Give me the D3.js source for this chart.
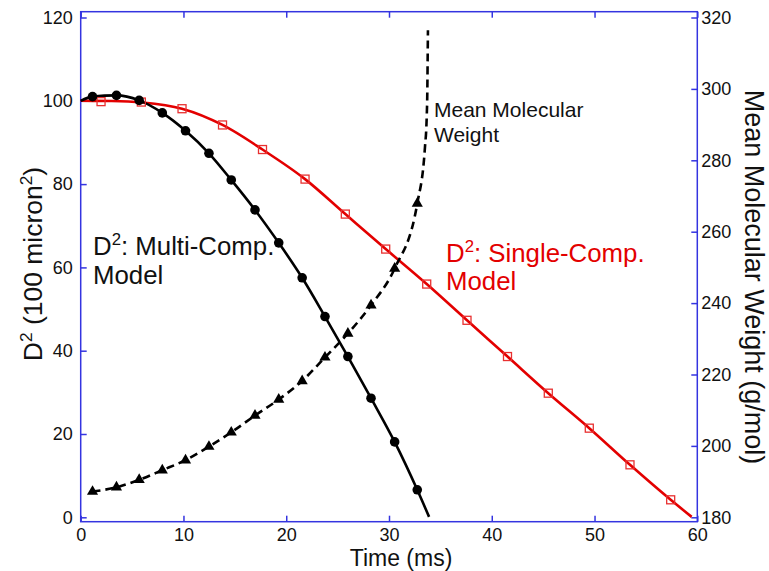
<!DOCTYPE html>
<html>
<head>
<meta charset="utf-8">
<script src="https://cdn.jsdelivr.net/npm/d3@7"></script>
<style>
  html, body { margin: 0; padding: 0; background: #fff; }
  svg { display: block; font-family: "Liberation Sans", Arial, sans-serif; }
</style>
</head>
<body>
<svg id="chart" width="769" height="571"></svg>
<script>
// ---------- data ----------
const xTicks = [0, 10, 20, 30, 40, 50, 60];
const yLeftTicks = [0, 20, 40, 60, 80, 100, 120];
const yRightTicks = [180, 200, 220, 240, 260, 280, 300, 320];

// D^2 multi-component model (black circles, solid line)
const multiT  = [1.15, 3.48, 5.69, 7.94, 10.2, 12.48, 14.65, 16.96, 19.27, 21.55, 23.77, 26.0, 28.25, 30.55, 32.75];
const multiD2 = [101.0, 101.3, 100.1, 97.1, 92.8, 87.4, 81.0, 73.8, 65.9, 57.5, 48.2, 38.6, 28.6, 18.1, 6.6];
const multiLineT = [0, 1.15, 3.48, 5.69, 7.94, 10.2, 12.48, 14.65, 16.96, 19.27, 21.55, 23.77, 26.0, 28.25, 30.55, 32.75, 33.9];
const multiLineD2 = [100.0, 101.0, 101.3, 100.1, 97.1, 92.8, 87.4, 81.0, 73.8, 65.9, 57.5, 48.2, 38.6, 28.6, 18.1, 6.6, 0.1];

// D^2 single-component model (red squares, solid line)
const singleT  = [1.98, 5.9, 9.86, 13.8, 17.69, 21.83, 25.75, 29.68, 33.67, 37.59, 41.53, 45.5, 49.49, 53.45, 57.41];
const singleD2 = [99.8, 99.7, 98.1, 94.2, 88.3, 81.2, 72.8, 64.4, 56.0, 47.3, 38.6, 29.8, 21.4, 12.6, 4.2];
const singleLineT  = [0, 3.0, 6.0, 9.86, 13.8, 17.69, 21.83, 25.75, 29.68, 33.67, 37.59, 41.53, 45.5, 49.49, 53.45, 57.41, 59.45];
const singleLineD2 = [100.0, 99.95, 99.6, 98.1, 94.2, 88.3, 81.2, 72.8, 64.4, 56.0, 47.3, 38.6, 29.8, 21.4, 12.6, 4.2, 0.1];

// Mean molecular weight (black triangles, dashed line), right axis
const mwT = [1.15, 3.48, 5.69, 7.94, 10.2, 12.48, 14.65, 16.96, 19.27, 21.55, 23.77, 26.0, 28.25, 30.55, 32.75];
const mwV = [187.2, 188.4, 190.5, 193.2, 196.0, 199.8, 203.8, 208.5, 213.0, 218.2, 224.8, 231.5, 239.4, 249.7, 267.9];
const mwLineT = [1.15, 3.48, 5.69, 7.94, 10.2, 12.48, 14.65, 16.96, 19.27, 21.55, 23.77, 26.0, 28.25, 30.55, 32.75, 33.5, 33.67, 33.73, 33.76, 33.79];
const mwLineV = [187.2, 188.4, 190.5, 193.2, 196.0, 199.8, 203.8, 208.5, 213.0, 218.2, 224.8, 231.5, 239.4, 249.7, 267.9, 283.7, 292.1, 299.6, 308.0, 316.4];

// ---------- layout ----------
const box = { left: 80.7, right: 697.3, top: 11.7, bottom: 521.7 };
const axisColor = "#3434e0";
const svg = d3.select("#chart");
svg.append("rect").attr("width", 769).attr("height", 571).attr("fill", "#fff");

const x = d3.scaleLinear().domain([0, 60]).range([box.left, box.right]);
const yL = d3.scaleLinear().domain([0, 120]).range([517.3, 17.5]);
const yR = d3.scaleLinear().domain([180, 320]).range([517.3, 17.5]);

const tickLen = 6;
const labelFont = 18;
const font = "'Liberation Sans', Arial, sans-serif";

// axes box
svg.append("rect")
  .attr("x", box.left).attr("y", box.top)
  .attr("width", box.right - box.left).attr("height", box.bottom - box.top)
  .attr("fill", "none").attr("stroke", axisColor).attr("stroke-width", 1.5);

const bottomAxis = d3.axisBottom(x).tickValues(xTicks).tickSizeInner(-tickLen).tickSizeOuter(0).tickPadding(6.5);
const gb = svg.append("g").attr("transform", `translate(0,${box.bottom})`).call(bottomAxis);
const topAxis = d3.axisTop(x).tickValues(xTicks).tickSizeInner(-tickLen).tickSizeOuter(0).tickFormat("");
const gt = svg.append("g").attr("transform", `translate(0,${box.top})`).call(topAxis);
const leftAxis = d3.axisLeft(yL).tickValues(yLeftTicks).tickSizeInner(-tickLen).tickSizeOuter(0).tickPadding(8);
const gl = svg.append("g").attr("transform", `translate(${box.left},0)`).call(leftAxis);
const rightAxis = d3.axisRight(yR).tickValues(yRightTicks).tickSizeInner(-tickLen).tickSizeOuter(0).tickPadding(4);
const gr = svg.append("g").attr("transform", `translate(${box.right},0)`).call(rightAxis);

[gb, gt, gl, gr].forEach(g => {
  g.select(".domain").remove();
  g.selectAll(".tick line").attr("stroke", axisColor).attr("stroke-width", 1.5);
  g.selectAll(".tick text").attr("fill", "#111").style("font-size", labelFont + "px")
    .style("font-family", font);
});

// ---------- curves ----------
const plot = svg.append("g");
const lineL = d3.line().x(d => x(d[0])).y(d => yL(d[1])).curve(d3.curveMonotoneX);
const lineR = d3.line().x(d => x(d[0])).y(d => yR(d[1])).curve(d3.curveMonotoneX);

plot.append("path")
  .datum(d3.zip(singleLineT, singleLineD2))
  .attr("d", lineL).attr("fill", "none").attr("stroke", "#e30000").attr("stroke-width", 2.6);

plot.append("path")
  .datum(d3.zip(multiLineT, multiLineD2))
  .attr("d", lineL).attr("fill", "none").attr("stroke", "#000").attr("stroke-width", 2.6);

plot.append("path")
  .datum(d3.zip(mwLineT, mwLineV))
  .attr("d", lineR).attr("fill", "none").attr("stroke", "#000").attr("stroke-width", 2.6)
  .attr("stroke-dasharray", "8,5");

const sq = 8;
plot.selectAll("rect.sq").data(d3.zip(singleT, singleD2)).join("rect")
  .attr("class", "sq")
  .attr("x", d => x(d[0]) - sq / 2).attr("y", d => yL(d[1]) - sq / 2)
  .attr("width", sq).attr("height", sq)
  .attr("fill", "none").attr("stroke", "#e83030").attr("stroke-width", 1.3);

plot.selectAll("circle.mc").data(d3.zip(multiT, multiD2)).join("circle")
  .attr("class", "mc")
  .attr("cx", d => x(d[0])).attr("cy", d => yL(d[1])).attr("r", 4.8)
  .attr("fill", "#000");

const tri = d3.symbol().type(d3.symbolTriangle).size(54);
plot.selectAll("path.tri").data(d3.zip(mwT, mwV)).join("path")
  .attr("class", "tri")
  .attr("transform", d => `translate(${x(d[0])},${yR(d[1])})`)
  .attr("d", tri).attr("fill", "#000");

// ---------- texts ----------
svg.append("text").attr("x", 401).attr("y", 566).attr("text-anchor", "middle")
  .style("font-size", "23px").style("font-family", font).attr("fill", "#111").text("Time (ms)");

function supText(sel, parts, size) {
  parts.forEach(([t, sup], i) => {
    const ts = sel.append("tspan").text(t);
    if (sup) ts.attr("dy", -size * 0.38).style("font-size", (size * 0.65) + "px");
    else if (i > 0 && parts[i - 1][1]) ts.attr("dy", size * 0.38);
  });
}

const ylab = svg.append("text")
  .attr("transform", "translate(42,264) rotate(-90)").attr("text-anchor", "middle")
  .style("font-size", "26.5px").style("font-family", font).attr("fill", "#111");
supText(ylab, [["D", false], ["2", true], [" (100 micron", false], ["2", true], [")", false]], 26.5);

svg.append("text")
  .attr("transform", "translate(745,277) rotate(90)").attr("text-anchor", "middle")
  .style("font-size", "27px").style("font-family", font).attr("fill", "#111")
  .text("Mean Molecular Weight (g/mol)");

const annSize = 25.8;
const am = svg.append("text").attr("x", 93).attr("y", 255)
  .style("font-size", annSize + "px").style("font-family", font).attr("fill", "#111");
supText(am, [["D", false], ["2", true], [": Multi-Comp.", false]], annSize);
svg.append("text").attr("x", 93).attr("y", 284)
  .style("font-size", annSize + "px").style("font-family", font).attr("fill", "#111").text("Model");

const as = svg.append("text").attr("x", 446).attr("y", 262)
  .style("font-size", annSize + "px").style("font-family", font).attr("fill", "#e30000");
supText(as, [["D", false], ["2", true], [": Single-Comp.", false]], annSize);
svg.append("text").attr("x", 446).attr("y", 290)
  .style("font-size", annSize + "px").style("font-family", font).attr("fill", "#e30000").text("Model");

svg.append("text").attr("x", 434).attr("y", 117)
  .style("font-size", "21px").style("font-family", font).attr("fill", "#111").text("Mean Molecular");
svg.append("text").attr("x", 434).attr("y", 142)
  .style("font-size", "21px").style("font-family", font).attr("fill", "#111").text("Weight");
</script>
</body>
</html>
